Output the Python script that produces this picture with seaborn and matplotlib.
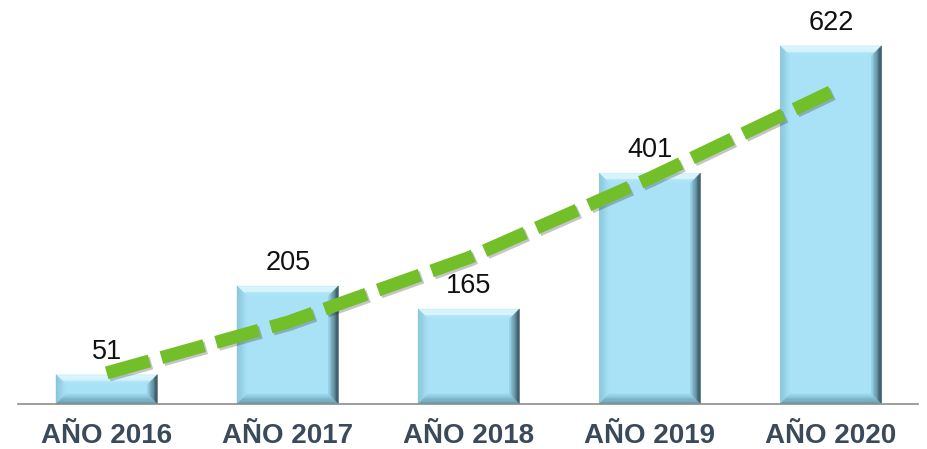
import numpy as np
import matplotlib
matplotlib.use("Agg")
import matplotlib.pyplot as plt
import matplotlib.patheffects as pe
from matplotlib.colors import to_rgb
from matplotlib.patches import Polygon
import seaborn as sns

years = ["AÑO 2016", "AÑO 2017", "AÑO 2018", "AÑO 2019", "AÑO 2020"]
values = [51, 205, 165, 401, 622]
# dashed trend line
trend = [54, 142, 254, 392, 542]

sns.set_theme(style="white")
plt.rcParams['font.family'] = ['Liberation Sans', 'DejaVu Sans']

fig = plt.figure(figsize=(9.27, 4.49), dpi=100)
ax = fig.add_axes([0.0194, 0.1002, 0.9706, 0.8978])

body = "#a9e2f6"
sns.barplot(x=years, y=values, color=body, saturation=1, width=0.56, ax=ax, zorder=2)

ax.set_xlim(-0.49, 4.48)
ax.set_ylim(0, 700)
fig.canvas.draw()


def mix(c1, c2, t):
    a, b = np.array(to_rgb(c1)), np.array(to_rgb(c2))
    return a + (b - a) * t


def bevel(ax, patch, bx=10, n=8):
    # bevel size in pixels -> data units
    inv = ax.transData.inverted()
    p0 = inv.transform((0, 0))
    p1 = inv.transform((bx, bx))
    dx, dy = p1 - p0
    x0, y0 = patch.get_x(), patch.get_y()
    x1, y1 = x0 + patch.get_width(), y0 + patch.get_height()
    dy = min(dy, patch.get_height() / 2.2)
    sides = {
        "top": ("#d0f1fb", body),
        "right": ("#2c4752", "#9ad6ec"),
        "left": ("#86c3d8", body),
        "bottom": ("#5f93a6", "#9cd8ee"),
    }
    for i in range(n):
        ta, tb = i / n, (i + 1) / n
        for side, (c_out, c_in) in sides.items():
            col = mix(c_out, c_in, (i + 0.5) / n)
            if side == "top" and i in (1, 2, 3, 4):
                col = mix("#ecfcff", col, 0.4)
            a = (x0 + dx * ta, y0 + dy * ta, x1 - dx * ta, y1 - dy * ta)
            b = (x0 + dx * tb, y0 + dy * tb, x1 - dx * tb, y1 - dy * tb)
            if side == "top":
                pts = [(a[0], a[3]), (a[2], a[3]), (b[2], b[3]), (b[0], b[3])]
            elif side == "bottom":
                pts = [(a[0], a[1]), (a[2], a[1]), (b[2], b[1]), (b[0], b[1])]
            elif side == "left":
                pts = [(a[0], a[1]), (a[0], a[3]), (b[0], b[3]), (b[0], b[1])]
            else:
                pts = [(a[2], a[1]), (a[2], a[3]), (b[2], b[3]), (b[2], b[1])]
            ax.add_patch(Polygon(pts, closed=True, facecolor=col,
                                 edgecolor=col, linewidth=0.3, zorder=2.5))


for bar in ax.patches[:len(values)]:
    bevel(ax, bar)

for bar, v in zip(ax.patches[:len(values)], values):
    ax.annotate(str(v), (bar.get_x() + bar.get_width() / 2, bar.get_height()),
                xytext=(0, 7), textcoords="offset points",
                ha="center", va="bottom", fontsize=19.5, color="#111111")

sns.lineplot(x=np.arange(len(trend)), y=trend, ax=ax, color="#72bf2a",
             linewidth=9.4, zorder=4)
ln = ax.lines[-1]
ln.set_linestyle((0, (3.4, 0.95)))
ln.set_dash_capstyle("butt")
ln.set_path_effects([pe.SimpleLineShadow(offset=(1.5, -1.5), alpha=0.25),
                     pe.Normal()])

for s in ["left", "right", "top"]:
    ax.spines[s].set_visible(False)
ax.spines["bottom"].set_color("#8c8c8c")
ax.spines["bottom"].set_linewidth(1.2)
ax.set_yticks([])
ax.set_ylabel("")
ax.set_xlabel("")
ax.tick_params(axis="x", length=0, pad=14)
for lab in ax.get_xticklabels():
    lab.set_fontweight("bold")
    lab.set_fontsize(20)
    lab.set_color("#3b4a5b")

fig.savefig("out.png", dpi=100)
